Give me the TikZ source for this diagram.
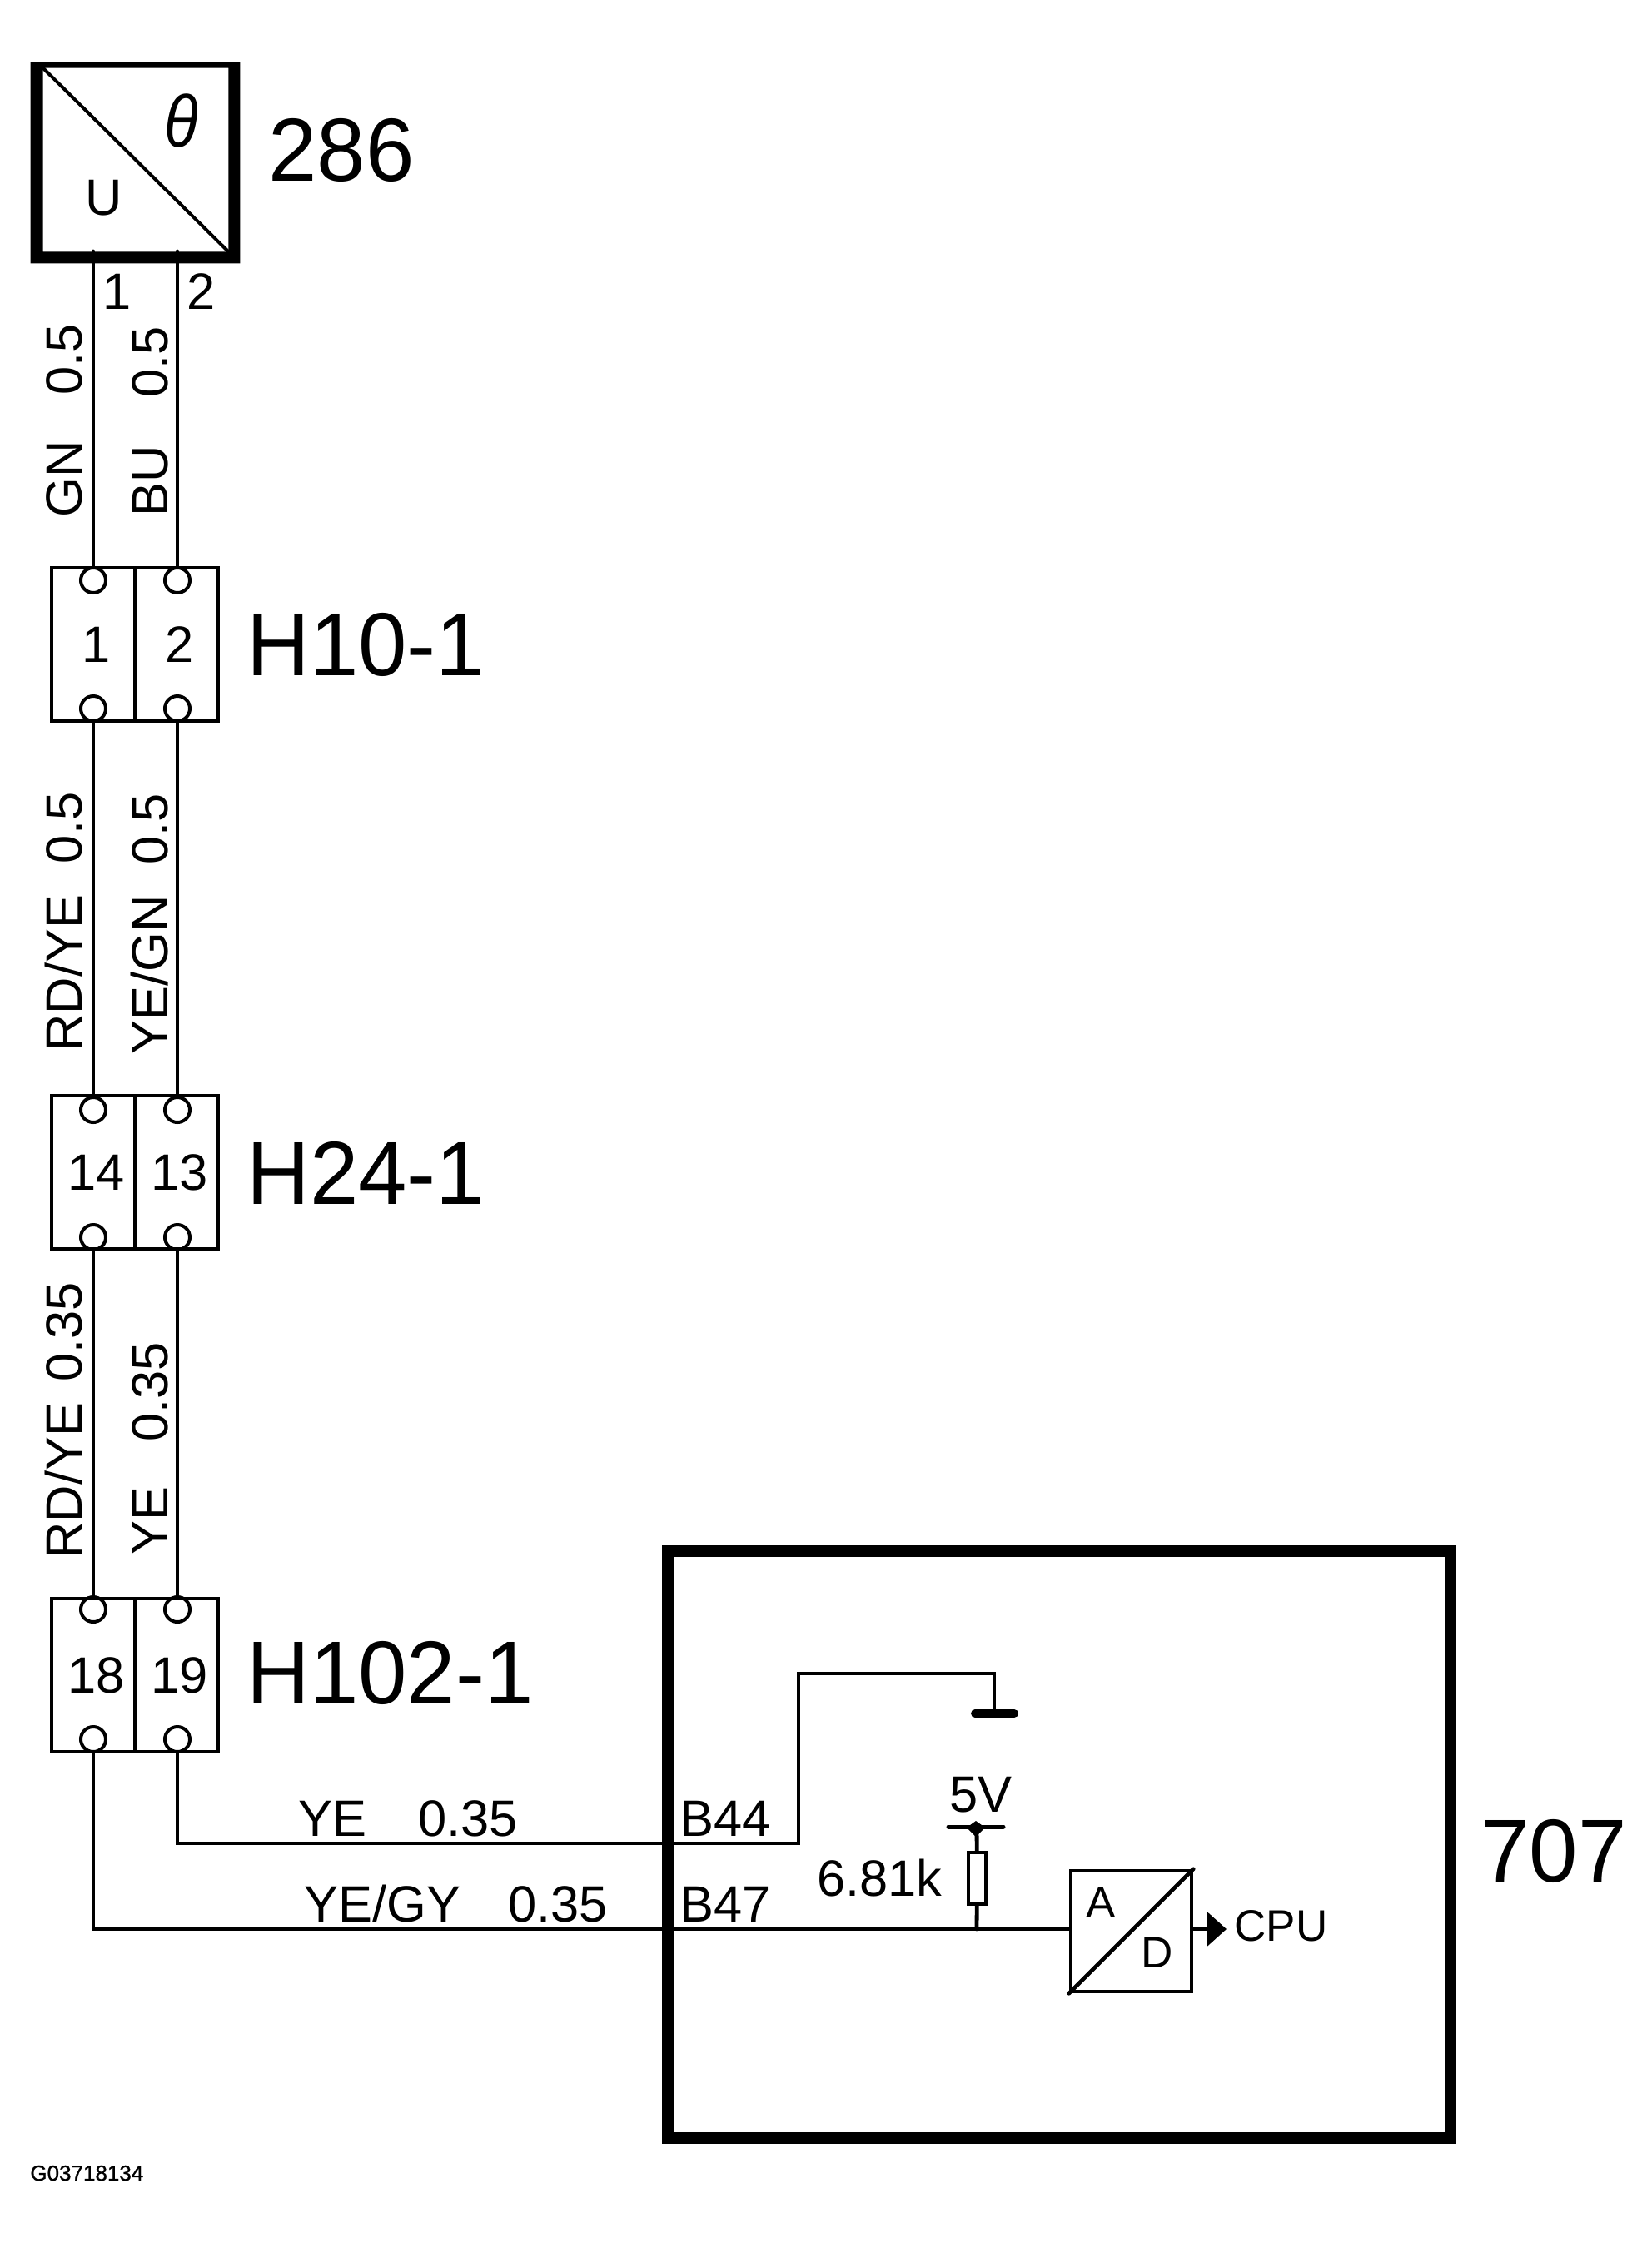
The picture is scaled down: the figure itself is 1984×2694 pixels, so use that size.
\documentclass[tikz,border=0pt]{standalone}
\usepackage{fontspec}
\setmainfont{Liberation Sans}
\newfontfamily\codefont[FakeBold=1]{Liberation Sans}
\usetikzlibrary{arrows.meta}
\newcommand{\slim}[1]{\scalebox{.975}[1]{#1}}
\tikzset{
  wire/.style={line width=2.4pt},
  pincell/.style={draw, line width=2.2pt, minimum width=50pt, minimum height=92pt, inner sep=0pt, font=\fontsize{30.7}{32}\selectfont, execute at begin node=\hspace*{4pt}},
  port/.style={draw, circle, line width=2pt, minimum size=15pt, inner sep=0pt},
  devbox/.style={draw, line width=7pt, inner sep=0pt},
  bigname/.style={anchor=base west, inner sep=0pt, font=\fontsize{53.8}{56}\selectfont},
  midtext/.style={anchor=base west, inner sep=0pt, font=\fontsize{30.7}{32}\selectfont},
  smalltext/.style={anchor=base west, inner sep=0pt, font=\fontsize{26.5}{28}\selectfont},
  wirelabel/.style={anchor=base west, rotate=90, inner sep=0pt, font=\fontsize{30.7}{32}\selectfont},
}
\begin{document}
\begin{tikzpicture}[x=0.5pt,y=-0.5pt,line cap=round]
        \useasboundingbox (0,0) rectangle (1984,2694);
        % sensor
        \node[minimum width=111pt, minimum height=110pt, inner sep=0pt] (s286) at (163,192) {};
        \fill[even odd rule] ([shift={(-15,-7)}]s286.north west) rectangle ([shift={(14,14)}]s286.south east)
              (s286.north west) rectangle (s286.south east);
        \draw[line width=2pt] (s286.north west) -- (s286.south east);
        \node[midtext] (su) at (102,258) {U};
        \node[midtext, font=\fontsize{44}{46}\selectfont\itshape] (sth) at (197,176) {\scalebox{.85}[1]{θ}};
        \node[bigname] (n286) at (322,217) {\slim{286}};
        \coordinate (s1) at (112,302);  %1
        \coordinate (s2) at (213,302);  %2
        \node[midtext] (s1n) at (123,371) {1};
        \node[midtext] (s2n) at (224,371) {2};
        % H10-1
        \node[pincell] (h10l) at (112,774) {1};
        \node[pincell] (h10r) at (212,774) {2};
        \node[port] (h10a) at (112,697) {};
        \node[port] (h10b) at (213,697) {};
        \node[port] (h10c) at (112,851) {};
        \node[port] (h10d) at (213,851) {};
        \node[bigname] (n10) at (296,811) {\slim{H10-1}};
        % H24-1
        \node[pincell] (h24l) at (112,1408) {14};
        \node[pincell] (h24r) at (212,1408) {13};
        \node[port] (h24a) at (112,1333) {};
        \node[port] (h24b) at (213,1333) {};
        \node[port] (h24c) at (112,1486) {};
        \node[port] (h24d) at (213,1486) {};
        \node[bigname] (n24) at (296,1446) {\slim{H24-1}};
        % H102-1
        \node[pincell] (h102l) at (112,2012) {18};
        \node[pincell] (h102r) at (212,2012) {19};
        \node[port] (h102a) at (112,1933) {};
        \node[port] (h102b) at (213,1933) {};
        \node[port] (h102c) at (112,2089) {};
        \node[port] (h102d) at (213,2089) {};
        \node[bigname] (n102) at (296,2046) {\slim{H102-1}};
        % wires down
        \draw[wire] (s1) -- (h10a);
        \draw[wire] (s2) -- (h10b);
        \draw[wire] (h10c) -- (h24a);
        \draw[wire] (h10d) -- (h24b);
        \draw[wire] (h24c) -- (h102a);
        \draw[wire] (h24d) -- (h102b);
        \node[wirelabel] (l1) at (98,622) {GN\hspace{27.5pt}0.5};
        \node[wirelabel] (l2) at (201,621) {BU\hspace{29pt}0.5};
        \node[wirelabel] (l3) at (98,1263) {RD/YE\hspace{19pt}0.5};
        \node[wirelabel] (l4) at (201,1267) {YE/GN\hspace{18.5pt}0.5};
        \node[wirelabel] (l5) at (98,1873) {RD/YE\hspace{12.5pt}0.35};
        \node[wirelabel] (l6) at (201,1868) {YE\hspace{27pt}0.35};
        % control module
        \node[devbox, minimum width=470pt, minimum height=352.5pt] (m707) at (1271.5,2215) {};
        \node[bigname] (n707) at (1778,2260) {\slim{707}};
        \coordinate (b44) at (959,2214);
        \coordinate (gtop) at (959,2010);
        \coordinate (gnd) at (1194,2058);
        \draw[wire] (h102d) |- (b44) -- (gtop) -| (gnd);
        \draw[line width=5pt] (1171,2058) -- (1218,2058);
        \node[midtext] (t44) at (816,2205) {B44};
        \node[midtext] (t47) at (816,2308) {B47};
        \node[midtext] (w1a) at (358,2205) {YE};
        \node[midtext] (w1b) at (502,2205) {0.35};
        \node[midtext] (w2a) at (365,2308) {YE/GY};
        \node[midtext] (w2b) at (610,2308) {0.35};
        % pull up
        \node[midtext] (t5v) at (1140,2176) {5V};
        \coordinate (vbar) at (1173,2194);
        \draw[line width=2.5pt] (1139,2194) -- (1205,2194);
        \fill (1172,2187) -- (1183,2195) -- (1172,2206) -- (1161,2195) -- cycle;
        \node[draw, line width=2pt, minimum width=10.5pt, minimum height=31pt, inner sep=0pt] (r681) at (1173.5,2256) {};
        \node[midtext] (t681) at (981,2277) {6.81k};
        \coordinate (tap) at (1173,2317);
        \draw[wire] (vbar) -- (r681);
        \draw[wire] (r681) -- (tap);
        % A/D
        \node[draw, line width=2.2pt, minimum width=72.5pt, minimum height=72.5pt, inner sep=0pt] (ad) at (1358.5,2319.5) {};
        \draw[line width=2.4pt] (ad.south west) -- (ad.north east);
        \node[smalltext] (ta) at (1304,2303) {A};
        \node[smalltext] (td) at (1370,2363) {D};
        \draw[wire] (h102c) |- (ad.west |- tap) -- (tap);
        \coordinate (cpu) at (1473,2317);
        \draw[wire, -{Triangle[length=11.5pt,width=20pt]}] (ad.east |- tap) -- (cpu);
        \node[smalltext] (tcpu) at (1482,2331) {CPU};
        \node[anchor=base west, inner sep=0pt, font=\fontsize{13}{15}\selectfont\codefont] (code) at (36,2619) {G03718134};
\end{tikzpicture}
\end{document}
